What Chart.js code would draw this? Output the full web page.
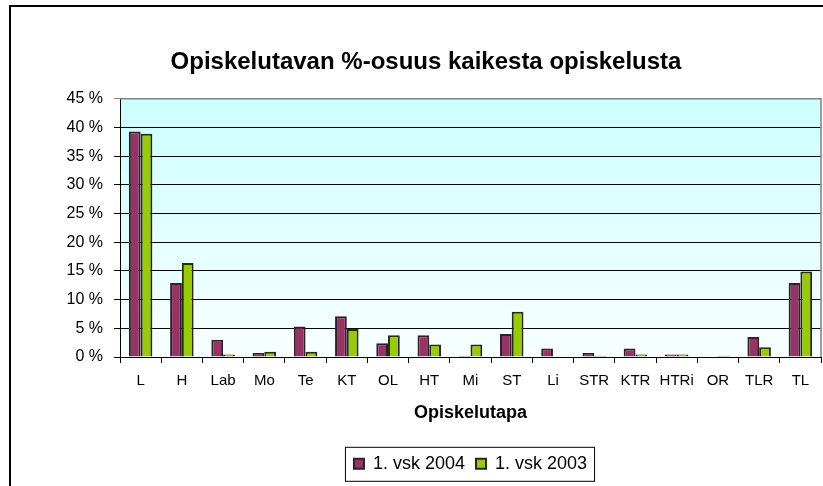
<!DOCTYPE html>
<html>
<head>
<meta charset="utf-8">
<script src="https://cdn.jsdelivr.net/npm/chart.js@4/dist/chart.umd.min.js"></script>
<style>
  body { margin: 0; background: #fff; }
  #wrap { width: 823px; height: 486px; }
</style>
</head>
<body>
<div id="wrap"><canvas id="chart1" width="823" height="486"></canvas></div>
<script>
const categories = ['L', 'H', 'Lab', 'Mo', 'Te', 'KT', 'OL', 'HT', 'Mi', 'ST', 'Li', 'STR', 'KTR', 'HTRi', 'OR', 'TLR', 'TL']
const vsk2004 = [39.3, 12.9, 3.0, 0.7, 5.3, 7.1, 2.4, 3.8, 0.2, 4.0, 1.5, 0.7, 1.5, 0.45, 0, 3.5, 12.9]
const vsk2003 = [38.9, 16.4, 0.45, 0.9, 0.9, 4.9, 3.8, 2.2, 2.2, 7.9, 0, 0.2, 0.45, 0.45, 0.2, 1.7, 14.9]
const seriesNames = ['1. vsk 2004', '1. vsk 2003']
const yMax = 45
const yStep = 5

const FONT = "'Liberation Sans', Arial, sans-serif"

// plot background, outer frame, legend frame
const decor = {
    id: 'decor',
    beforeDraw(chart) {
        const {ctx, chartArea: a} = chart
        const g = ctx.createLinearGradient(0, a.top, 0, a.bottom)
        g.addColorStop(0, '#ccffff')
        g.addColorStop(1, '#f8ffff')
        ctx.save()
        ctx.fillStyle = g
        ctx.fillRect(a.left, a.top, a.right - a.left, a.bottom - a.top)
        ctx.restore()
    },
    beforeDatasetsDraw(chart) {
        const {ctx, chartArea: a} = chart
        ctx.save()
        ctx.strokeStyle = '#808080'
        ctx.lineWidth = 1.5
        ctx.beginPath()
        ctx.moveTo(a.left, a.top)
        ctx.lineTo(a.right, a.top)
        ctx.lineTo(a.right, a.bottom)
        ctx.stroke()
        ctx.restore()
    },
    afterDraw(chart) {
        const ctx = chart.ctx
        ctx.save()
        ctx.strokeStyle = '#000'
        ctx.lineWidth = 2
        ctx.beginPath()
        ctx.moveTo(10, 486)
        ctx.lineTo(10, 6)
        ctx.lineTo(823, 6)
        ctx.stroke()

        const hb = chart.legend.legendHitBoxes
        if (hb && hb.length) {
            const first = hb[0], last = hb[hb.length - 1]
            const cy = first.top + first.height / 2
            ctx.lineWidth = 1
            ctx.strokeRect(first.left - 8.5, cy - 16.5, last.left + last.width - first.left + 16, 34)
        }
        ctx.restore()
    }
}

let chart = new Chart('chart1', {
    type: 'bar',
    data: {
        labels: categories,
        datasets: [
            {
                label: seriesNames[0],
                data: vsk2004,
                backgroundColor: '#993366',
                borderColor: '#262626',
                borderWidth: 2
            },
            {
                label: seriesNames[1],
                data: vsk2003,
                backgroundColor: '#99cc00',
                borderColor: '#262626',
                borderWidth: 2
            }
        ]
    },
    plugins: [decor],
    options: {
        responsive: false,
        animation: false,
        devicePixelRatio: 1,
        layout: {
            padding: {left: 31, right: 2, top: 0, bottom: 3.2}
        },
        datasets: {
            bar: {
                categoryPercentage: 0.57,
                barPercentage: 1.0
            }
        },
        scales: {
            x: {
                afterFit(scale) { scale.height = 86.8 },
                grid: {
                    drawOnChartArea: false,
                    color: '#000',
                    tickLength: 6
                },
                border: {color: '#000', width: 1},
                ticks: {
                    color: '#000',
                    padding: 9,
                    maxRotation: 0,
                    autoSkip: false,
                    font: {family: FONT, size: 15}
                },
                title: {
                    display: true,
                    text: 'Opiskelutapa',
                    color: '#000',
                    padding: {top: 0, bottom: 20},
                    font: {family: FONT, size: 18, weight: 'bold'}
                }
            },
            y: {
                min: 0,
                max: yMax,
                afterFit(scale) { scale.width = 89 },
                grid: {
                    color: (c) => c.tick && c.tick.value === yMax ? '#808080' : '#000',
                    tickLength: 6
                },
                border: {color: '#000', width: 1},
                ticks: {
                    stepSize: yStep,
                    color: '#000',
                    padding: 11,
                    font: {family: FONT, size: 16},
                    callback: (v) => v + ' %'
                }
            }
        },
        plugins: {
            title: {
                display: true,
                text: 'Opiskelutavan %-osuus kaikesta opiskelusta',
                color: '#000',
                padding: {top: 48, bottom: 22},
                font: {family: FONT, size: 24, weight: 'bold'}
            },
            legend: {
                position: 'bottom',
                fullSize: false,
                labels: {
                    color: '#000',
                    boxWidth: 10,
                    boxHeight: 10,
                    padding: 11,
                    font: {family: FONT, size: 18}
                }
            },
            tooltip: {enabled: false}
        }
    }
})
</script>
</body>
</html>
